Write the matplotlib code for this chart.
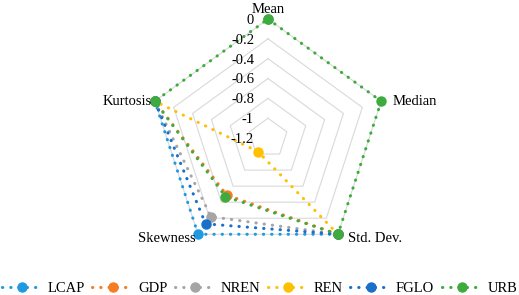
import numpy as np
from matplotlib import pyplot as plt

plt.rcParams['font.family'] = ['Liberation Serif', 'DejaVu Serif']

categories = ['Mean', 'Median', 'Std. Dev.', 'Skewness', 'Kurtosis']
series = ['LCAP', 'GDP', 'NREN', 'REN', 'FGLO', 'URB']
colors = ['#1e9be0', '#f57c20', '#a5a5a5', '#ffc000', '#1a6fcb', '#3dab3d']

# Mean / Median left blank for all but URB
lcap = [np.nan, np.nan, 0.0, 0.0, 0.0]
gdp = [np.nan, np.nan, 0.0, -0.49, 0.0]
nren = [np.nan, np.nan, 0.0, -0.22, 0.0]
ren = [np.nan, np.nan, 0.0, -1.03, 0.0]
fglo = [np.nan, np.nan, 0.0, -0.13, 0.0]
urb = [0.0, 0.0, 0.0, -0.47, 0.0]
values = [lcap, gdp, nren, ren, fglo, urb]

ticks = [0, -0.2, -0.4, -0.6, -0.8, -1.0, -1.2]
tick_labels = ['0', '-0.2', '-0.4', '-0.6', '-0.8', '-1', '-1.2']

fig = plt.figure(figsize=(5.19, 2.95), dpi=100)
ax = fig.add_axes([0.2871, 0.1288, 0.4586, 0.8068], projection='polar')
ax.set_theta_offset(np.pi / 2)
ax.set_theta_direction(-1)
ax.set_ylim(-1.2, 0)
ax.grid(False)
ax.spines['polar'].set_visible(False)
ax.set_xticks([])
ax.set_yticks([])

angles = np.linspace(0, 2 * np.pi, len(categories), endpoint=False)
closed = np.append(angles, angles[0])

# pentagon grid
for r in ticks[:-1]:
    ax.plot(closed, [r] * len(closed), color='#d9d9d9', lw=0.8, zorder=1, clip_on=False)

for name, vals, c in zip(series, values, colors):
    ax.plot(closed, vals + [vals[0]], color=c, lw=2.2, linestyle=(0, (0.1, 2.6)),
            dash_capstyle='round', marker='o', markersize=6.5, label=name,
            zorder=3, clip_on=False)

for r, lab in zip(ticks, tick_labels):
    ax.annotate(lab, xy=(0, r), xytext=(-10, -1), textcoords='offset points',
                ha='right', va='center', fontsize=10.5)

label_pos = [((0, 7), 'center', 'center'),
             ((8, 0), 'left', 'center'),
             ((7, -3), 'left', 'center'),
             ((-2, -3), 'right', 'center'),
             ((-2, 0), 'right', 'center')]
for a, cat, (off, ha, va) in zip(angles, categories, label_pos):
    ax.annotate(cat, xy=(a, 0), xytext=off, textcoords='offset points',
                ha=ha, va=va, fontsize=10.5)

fig.legend(loc='lower center', ncol=6, bbox_to_anchor=(0.5, -0.04), frameon=False,
           fontsize=10.5, handlelength=2.8, handletextpad=0.35, columnspacing=0.5,
           borderpad=0.3)

fig.savefig('out.png', dpi=100)
